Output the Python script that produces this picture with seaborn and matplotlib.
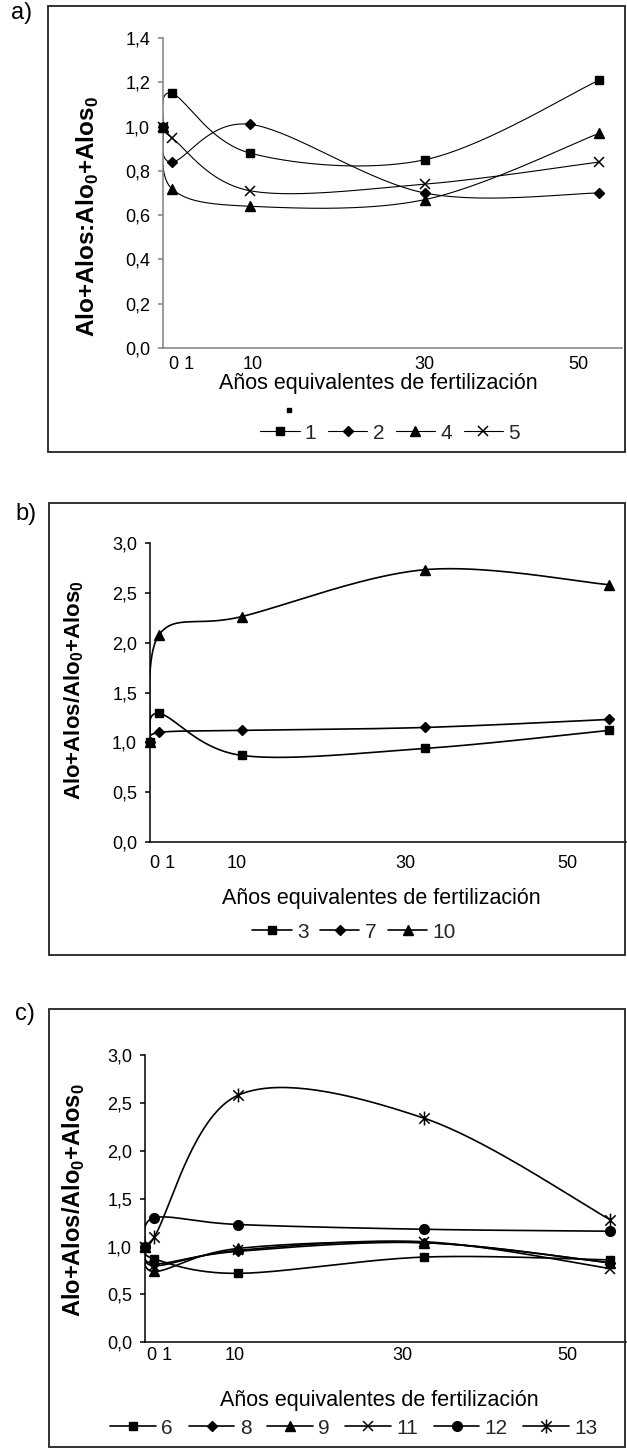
import numpy as np
import matplotlib
matplotlib.use("Agg")
import matplotlib.pyplot as plt
from matplotlib.lines import Line2D
from matplotlib.patches import Rectangle
from matplotlib.path import Path
import seaborn as sns

# ---- data -------------------------------------------------------------
YEARS = [0, 1, 10, 30, 50]

A_NAMES = ["1", "2", "4", "5"]
A_1 = [1.00, 1.15, 0.88, 0.85, 1.21]
A_2 = [1.00, 0.84, 1.01, 0.70, 0.70]
A_4 = [1.00, 0.72, 0.64, 0.67, 0.97]
A_5 = [1.00, 0.95, 0.71, 0.74, 0.84]

B_NAMES = ["3", "7", "10"]
B_3 = [1.00, 1.29, 0.87, 0.94, 1.12]
B_7 = [1.00, 1.10, 1.12, 1.15, 1.23]
B_10 = [1.00, 2.08, 2.26, 2.73, 2.58]

C_NAMES = ["6", "8", "9", "11", "12", "13"]
C_6 = [1.00, 0.87, 0.72, 0.89, 0.86]
C_8 = [1.00, 0.82, 0.95, 1.04, 0.83]
C_9 = [1.00, 0.74, 0.98, 1.04, 0.83]
C_11 = [1.00, 0.80, 0.96, 1.05, 0.77]
C_12 = [1.00, 1.30, 1.23, 1.18, 1.16]
C_13 = [1.00, 1.10, 2.58, 2.34, 1.28]

X_TICK_LABELS = ["0 1", "10", "30", "50"]
A_TICK_POS = [2.1, 10.3, 29.9, 47.6]
B_TICK_POS = [1.4, 9.5, 27.9, 45.5]
C_TICK_POS = [1.6, 9.6, 27.7, 45.4]

A_YTICKS = [0.0, 0.2, 0.4, 0.6, 0.8, 1.0, 1.2, 1.4]
BC_YTICKS = [0.0, 0.5, 1.0, 1.5, 2.0, 2.5, 3.0]

XLABEL = "Años equivalentes de fertilización"
A_YLABEL = r"Alo+Alos:Alo$_\mathbf{0}$+Alos$_\mathbf{0}$"
B_YLABEL = r"Alo+Alos/Alo$_\mathbf{0}$+Alos$_\mathbf{0}$"
C_YLABEL = r"Alo+Alos/Alo$_\mathbf{0}$+Alos$_\mathbf{0}$"

# ---- style ------------------------------------------------------------
sns.set_theme(style="white")
plt.rcParams["font.family"] = ["Liberation Sans", "DejaVu Sans"]
plt.rcParams["mathtext.fontset"] = "custom"
plt.rcParams["mathtext.rm"] = "Liberation Sans"
plt.rcParams["mathtext.bf"] = "Liberation Sans:bold"

W, H = 627, 1448
fig = plt.figure(figsize=(W / 100, H / 100), dpi=100)
fig.patch.set_facecolor("white")


def fx(px):
    return px / W


def fy(py):
    return 1 - py / H


# asterisk marker: vertical bar plus a cross
STAR = Path(
    [(0, -1), (0, 1), (-0.75, -0.75), (0.75, 0.75), (-0.75, 0.75), (0.75, -0.75)],
    [Path.MOVETO, Path.LINETO, Path.MOVETO, Path.LINETO, Path.MOVETO, Path.LINETO],
)

MARKERS = {
    "sq": dict(marker="s", ms=6.2),
    "di": dict(marker="D", ms=5.6),
    "tr": dict(marker="^", ms=7.2),
    "x": dict(marker="x", ms=7.0, mew=1.1),
    "ci": dict(marker="o", ms=7.0),
    "st": dict(marker=STAR, ms=10, mew=1.1),
}


def smooth(ax, xs, ys, n=40):
    """Bezier smoothing through the points, computed in screen space."""
    pts = ax.transData.transform(np.column_stack([xs, ys]))
    p = np.vstack([pts[0], pts, pts[-1]])
    t = np.linspace(0, 1, n)[:, None]
    segs = []
    for i in range(1, len(p) - 2):
        p0, p1, p2, p3 = p[i - 1], p[i], p[i + 1], p[i + 2]
        c1 = p1 + (p2 - p0) / 6
        c2 = p2 - (p3 - p1) / 6
        seg = ((1 - t) ** 3) * p1 + 3 * ((1 - t) ** 2) * t * c1 \
            + 3 * (1 - t) * t ** 2 * c2 + t ** 3 * p2
        segs.append(seg if i == 1 else seg[1:])
    curve = ax.transData.inverted().transform(np.vstack(segs))
    return curve[:, 0], curve[:, 1]


def fmt(v):
    return f"{v:.1f}".replace(".", ",")


def panel(box, axbox, xmax, ymax, yticks, tickpos, xpad, series, names,
          lw, spine_color, letter, letter_xy, ylabel, ylabel_xy, ylabel_fs,
          xlabel_xy, legend_xy, handlelength=1.9, columnspacing=0.55):
    # frame around the panel
    l, t, r, b = box
    fig.add_artist(Rectangle((fx(l), fy(b)), (r - l) / W, (b - t) / H,
                             transform=fig.transFigure, fill=False,
                             edgecolor="#222222", lw=1.3))
    al, at, ar, ab = axbox
    ax = fig.add_axes([fx(al), fy(ab), (ar - al) / W, (ab - at) / H])
    ax.set_facecolor("none")
    ax.set_xlim(0, xmax)
    ax.set_ylim(0, ymax)

    handles = []
    for (ys, mk), name in zip(series, names):
        cx, cy = smooth(ax, YEARS, ys)
        sns.lineplot(x=cx, y=cy, sort=False, estimator=None, color="black",
                     lw=lw, ax=ax)
        kw = dict(MARKERS[mk])
        ax.plot(YEARS, ys, ls="none", color="black", clip_on=False,
                zorder=5, **kw)
        handles.append(Line2D([], [], color="black", lw=lw, **kw))

    ax.set_xlim(0, xmax)
    ax.set_ylim(0, ymax)
    for s in ("top", "right"):
        ax.spines[s].set_visible(False)
    for s in ("left", "bottom"):
        ax.spines[s].set_color(spine_color)
        ax.spines[s].set_linewidth(1.1)
    ax.set_yticks(yticks)
    ax.set_yticklabels([fmt(v) for v in yticks])
    ax.set_xticks(tickpos)
    ax.set_xticklabels(X_TICK_LABELS)
    ax.tick_params(axis="y", length=3.8, width=1.1, color=spine_color,
                   pad=5.5, labelsize=13, labelcolor="black", left=True)
    ax.tick_params(axis="x", length=0, pad=xpad, labelsize=13,
                   labelcolor="black", bottom=True)
    ax.set_xlabel("")
    ax.set_ylabel("")
    ax.grid(False)

    fig.text(fx(letter_xy[0]), fy(letter_xy[1]), letter, fontsize=17,
             ha="left", va="top", color="black")
    fig.text(fx(ylabel_xy[0]), fy(ylabel_xy[1]), ylabel, rotation=90,
             fontsize=ylabel_fs, fontweight="bold", ha="center", va="center",
             color="black")
    fig.text(fx(xlabel_xy[0]), fy(xlabel_xy[1]), XLABEL, fontsize=15.5,
             ha="center", va="baseline", color="black")
    fig.legend(handles=handles, labels=names, ncol=len(names),
               loc="center", bbox_to_anchor=(fx(legend_xy[0]), fy(legend_xy[1])),
               frameon=False, fontsize=15, handlelength=handlelength,
               handletextpad=0.25, columnspacing=columnspacing, borderpad=0,
               borderaxespad=0)
    return ax


# a) treatments 1, 2, 4, 5
panel(box=(48, 6, 625, 452), axbox=(163, 38, 622, 348), xmax=52.6, ymax=1.4,
      yticks=A_YTICKS, tickpos=A_TICK_POS, xpad=5.8,
      series=[(A_1, "sq"), (A_2, "di"), (A_4, "tr"), (A_5, "x")],
      names=A_NAMES, lw=0.8, spine_color="#808080",
      letter="a)", letter_xy=(11, 2), ylabel=A_YLABEL, ylabel_xy=(88, 216),
      ylabel_fs=17.5, xlabel_xy=(378, 389), legend_xy=(390, 433))
fig.add_artist(Line2D([fx(289)], [fy(410)], marker="s", ms=2.2, color="black",
                      transform=fig.transFigure))

# b) treatments 3, 7, 10
panel(box=(49, 503, 625, 955), axbox=(150, 542.7, 626, 842.3), xmax=51.9,
      ymax=3.0, yticks=BC_YTICKS, tickpos=B_TICK_POS, xpad=9.0,
      series=[(B_3, "sq"), (B_7, "di"), (B_10, "tr")],
      names=B_NAMES, lw=1.2, spine_color="black",
      letter="b)", letter_xy=(15, 503), ylabel=B_YLABEL, ylabel_xy=(74, 690),
      ylabel_fs=16, xlabel_xy=(381, 904), legend_xy=(354, 932))

# c) treatments 6, 8, 9, 11, 12, 13
panel(box=(49, 1009, 625, 1447), axbox=(145, 1055, 626, 1342.3), xmax=51.7,
      ymax=3.0, yticks=BC_YTICKS, tickpos=C_TICK_POS, xpad=3.4,
      series=[(C_6, "sq"), (C_8, "di"), (C_9, "tr"), (C_11, "x"),
              (C_12, "ci"), (C_13, "st")],
      names=C_NAMES, lw=1.2, spine_color="black",
      letter="c)", letter_xy=(15, 1003), ylabel=C_YLABEL, ylabel_xy=(74, 1200),
      ylabel_fs=17, xlabel_xy=(379, 1406), legend_xy=(354, 1428),
      handlelength=2.2, columnspacing=0.75)

fig.savefig("out.png", dpi=100, facecolor="white")
